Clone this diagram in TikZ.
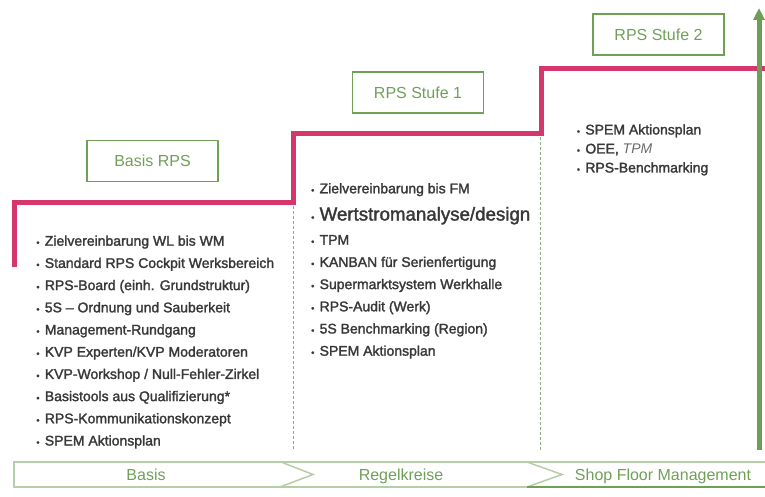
\documentclass[tikz,border=0pt]{standalone}
\usepackage{fontspec}
\setmainfont{Liberation Sans}
\newfontfamily\itemfont{Liberation Sans}[FakeBold=1.8]
\usetikzlibrary{matrix, arrows.meta}
\definecolor{stairpink}{RGB}{214,54,110}
\definecolor{stagegreen}{RGB}{112,160,88}
\definecolor{arrowgreen}{RGB}{108,158,86}
\definecolor{bannerlight}{RGB}{182,206,168}
\definecolor{dividergreen}{RGB}{140,176,124}
\definecolor{itemgray}{RGB}{56,56,56}
\newcommand{\itm}{{\fontsize{9}{9}\selectfont\textbullet}\hspace{5.3pt}}
\tikzset{
	stagebox/.style={
		draw=stagegreen,
		line width=1.5pt,
		minimum width=131pt,
		minimum height=41pt,
		text=stagegreen,
		font=\fontsize{16}{19}\selectfont
	},
	itemlist/.style={
		matrix of nodes,
		nodes={anchor=base west, inner sep=0pt, text=itemgray,
			font=\itemfont\fontsize{14}{16}\selectfont},
		row sep={between origins, 22.2pt}
	},
	phase/.style={
		anchor=base,
		text=stagegreen,
		font=\fontsize{16}{19}\selectfont
	}
}

\begin{document}
\begin{tikzpicture}[x=1pt, y=-1pt]
	\useasboundingbox (0,0) rectangle (765,497);

	% stairs
	\draw[stairpink, line width=5pt] (14.5,267) |- (293,202) |- (541,134) |- (765,69);

	% column dividers
	\begin{scope}[dividergreen, line width=0.8pt, dash pattern=on 3pt off 2pt]
	\draw (293,206) -- (293,450);
	\draw (540,137) -- (540,450);
	\end{scope}

	% stage boxes
	\node[stagebox] (basisbox) at (152.5,161) {Basis RPS};
	\node[stagebox] (stufeeins) at (418,92.5) {RPS Stufe 1};
	\node[stagebox] (stufezwei) at (658.5,34.5) {RPS Stufe 2};

	% item lists
	\matrix[itemlist, matrix anchor=basislist-1-1.base west] (basislist) at (36.2,245.7) {
		\itm Zielvereinbarung WL bis WM \\
		\itm Standard RPS Cockpit Werksbereich \\
		\itm RPS-Board (einh. Grundstruktur) \\
		\itm 5S – Ordnung und Sauberkeit \\
		\itm Management-Rundgang \\
		\itm KVP Experten/KVP Moderatoren \\
		\itm KVP-Workshop / Null-Fehler-Zirkel \\
		\itm Basistools aus Qualifizierung* \\
		\itm RPS-Kommunikationskonzept \\
		\itm SPEM Aktionsplan \\
	};

	\matrix[itemlist, matrix anchor=einslist-1-1.base west] (einslist) at (311,193.3) {
		\itm Zielvereinbarung bis FM \\[5pt]
		|[font=\itemfont\fontsize{18.7}{22}\selectfont]| \itm Wertstromanalyse/design \\[2pt]
		\itm TPM \\
		\itm KANBAN für Serienfertigung \\
		\itm Supermarktsystem Werkhalle \\
		\itm RPS-Audit (Werk) \\
		\itm 5S Benchmarking (Region) \\
		\itm SPEM Aktionsplan \\
	};

	\matrix[itemlist, row sep={between origins, 19pt}, matrix anchor=zweilist-1-1.base west] (zweilist) at (576.7,134.5) {
		\itm SPEM Aktionsplan \\
		\itm OEE, {\color{itemgray!75}\fontspec{Liberation Sans}\itshape TPM} \\
		\itm RPS-Benchmarking \\
	};

	% progress arrow
	\coordinate (arrowfoot) at (759,450);
	\coordinate (arrowtip) at (759,8);
	\draw[arrowgreen, line width=5pt, -{Triangle[width=11pt, length=12pt]}] (arrowfoot) -- (arrowtip);

	% phase banner
	\begin{scope}[bannerlight, line width=1.5pt]
	\draw (765,462) -- (14,462) -- (14,487) -- (527,487);
	\draw (281,462) -- (313,474.5) -- (280,487);
	\draw (527,462) -- (562,474.5) -- (527,487);
	\end{scope}
	\draw[stagegreen, line width=1.5pt] (527,487) -- (765,487);

	\node[phase] (basisphase) at (146,480) {Basis};
	\node[phase] (regelphase) at (401,480) {Regelkreise};
	\node[phase] (sfmphase) at (663,480) {Shop Floor Management};
\end{tikzpicture}
\end{document}
